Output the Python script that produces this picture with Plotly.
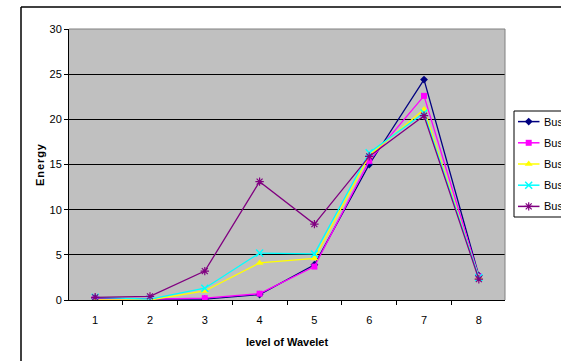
import plotly.graph_objects as go

# Wavelet decomposition levels and energy per bus
levels = ["1", "2", "3", "4", "5", "6", "7", "8"]
bus1 = [0.2, 0.1, 0.1, 0.6, 3.9, 15.0, 24.4, 2.7]
bus2 = [0.1, 0.1, 0.2, 0.7, 3.7, 15.4, 22.6, 2.6]
bus3 = [0.0, 0.0, 1.0, 4.1, 4.6, 16.0, 21.1, 2.5]
bus4 = [0.3, 0.1, 1.3, 5.2, 5.1, 16.3, 20.7, 2.5]
bus5 = [0.3, 0.4, 3.2, 13.1, 8.4, 15.9, 20.4, 2.3]
names = ["Bus 1", "Bus 2", "Bus 3", "Bus 4", "Bus 5"]
y_ticks = [0, 5, 10, 15, 20, 25, 30]

series = [bus1, bus2, bus3, bus4, bus5]
colors = ["#000080", "#FF00FF", "#FFFF00", "#00FFFF", "#800080"]
markers = [
    dict(symbol="diamond", size=6),
    dict(symbol="square", size=6),
    dict(symbol="triangle-up", size=7),
    dict(symbol="x-thin-open", size=7, line=dict(width=1.5)),
    dict(symbol="asterisk-open", size=7, line=dict(width=1.2)),
]

W, H = 561, 361
# plot area in pixels
PL, PR, PT, PB = 69, 505, 29, 300
# legend box in pixels
LL, LT, LB = 514, 111, 217


def px(x):
    return x / W


def py(y):
    return 1 - y / H


fig = go.Figure()

for vals, name, col, mk in zip(series, names, colors, markers):
    m = dict(mk)
    m["color"] = col
    if "line" in m:
        m["line"] = dict(m["line"], color=col)
    fig.add_trace(go.Scatter(
        x=levels, y=vals, name=name, mode="lines+markers",
        line=dict(color=col, width=1.3), marker=m,
        showlegend=False, xaxis="x", yaxis="y",
    ))

# legend samples on a helper axis
n = len(names)
for i, (name, col, mk) in enumerate(zip(names, colors, markers)):
    m = dict(mk)
    m["color"] = col
    if "line" in m:
        m["line"] = dict(m["line"], color=col)
    yy = n - 1 - i
    fig.add_trace(go.Scatter(
        x=[4, 25.5], y=[yy, yy], mode="lines", line=dict(color=col, width=1.5),
        showlegend=False, hoverinfo="skip", xaxis="x2", yaxis="y2",
    ))
    fig.add_trace(go.Scatter(
        x=[14.7], y=[yy], mode="markers", marker=m,
        showlegend=False, hoverinfo="skip", xaxis="x2", yaxis="y2",
    ))
    fig.add_annotation(
        x=28, y=yy, xref="x2", yref="y2", text=name, showarrow=False,
        xanchor="left", yanchor="middle",
        font=dict(family="Liberation Sans", size=11, color="black"),
    )

shapes = [
    # outer chart frame
    dict(type="line", xref="paper", yref="paper", x0=px(21), x1=px(21), y0=py(7), y1=-0.1,
         line=dict(color="black", width=1.5)),
    dict(type="line", xref="paper", yref="paper", x0=px(21), x1=1.1, y0=py(7), y1=py(7),
         line=dict(color="black", width=1.5)),
    # plot area border top / right
    dict(type="line", xref="paper", yref="paper", x0=px(PL), x1=px(PR), y0=py(PT), y1=py(PT),
         line=dict(color="#808080", width=1)),
    dict(type="line", xref="paper", yref="paper", x0=px(PR), x1=px(PR), y0=py(PT), y1=py(PB),
         line=dict(color="#808080", width=1)),
    # legend box
    dict(type="rect", xref="paper", yref="paper", x0=px(LL), x1=1.05, y0=py(LB), y1=py(LT),
         line=dict(color="black", width=1), fillcolor="white", layer="below"),
]

fig.add_annotation(
    x=px(287), y=py(342), xref="paper", yref="paper", text="<b>level of Wavelet</b>",
    xanchor="center", yanchor="middle",
    showarrow=False, font=dict(family="Liberation Sans", size=11, color="black"),
)
fig.add_annotation(
    x=px(40), y=py(165), xref="paper", yref="paper", text="<b>E\u200an\u200ae\u200ar\u200ag\u200ay</b>",
    xanchor="center", yanchor="middle",
    showarrow=False, textangle=-90, font=dict(family="Liberation Sans", size=11, color="black"),
)

fig.update_layout(
    width=W, height=H, autosize=False,
    margin=dict(l=0, r=0, t=0, b=0, pad=0, autoexpand=False),
    paper_bgcolor="white", plot_bgcolor="#C0C0C0",
    font=dict(family="Liberation Sans", size=11, color="black"),
    showlegend=False,
    shapes=shapes,
    xaxis=dict(
        domain=[px(PL), px(PR)], type="category", categoryorder="array", categoryarray=levels,
        tickson="boundaries", ticks="outside", ticklen=4, tickcolor="black", tickwidth=1,
        showline=True, linecolor="black", linewidth=1, showgrid=False, zeroline=False,
        ticklabelstandoff=10, fixedrange=True,
    ),
    yaxis=dict(
        domain=[py(PB), py(PT)], range=[0, 30], tickvals=y_ticks,
        ticks="outside", ticklen=4, tickcolor="black", tickwidth=1,
        showline=True, linecolor="black", linewidth=1,
        showgrid=True, gridcolor="black", gridwidth=1, zeroline=False, fixedrange=True,
    ),
    xaxis2=dict(domain=[px(LL), 1], range=[0, 47], visible=False, fixedrange=True),
    yaxis2=dict(domain=[py(LB), py(LT)], range=[-0.5, n - 0.5], visible=False,
                anchor="x2", fixedrange=True),
)

fig.write_html("out.html")
